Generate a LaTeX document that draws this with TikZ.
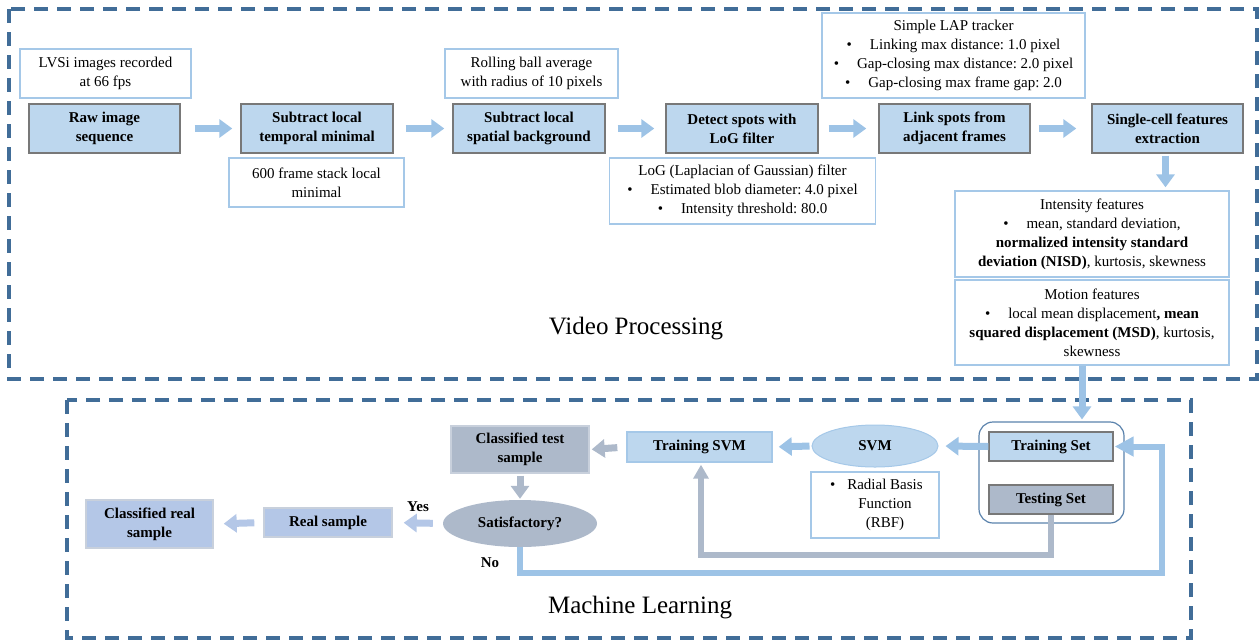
\documentclass[tikz,border=0pt]{standalone}
\usepackage{fontspec}
\setmainfont{Liberation Serif}
\usetikzlibrary{arrows.meta,shapes.geometric}
\definecolor{procfill}{RGB}{189,215,238}
\definecolor{procline}{RGB}{120,120,120}
\definecolor{notline}{RGB}{165,200,232}
\definecolor{arrblue}{RGB}{157,195,230}
\definecolor{arrpale}{RGB}{180,199,231}
\definecolor{grayfill}{RGB}{173,185,202}
\definecolor{grayline}{RGB}{200,208,220}
\definecolor{dashcol}{RGB}{65,109,152}
\definecolor{grpline}{RGB}{90,130,172}
\definecolor{realfill}{RGB}{180,199,231}
\frenchspacing
\begin{document}
\begin{tikzpicture}[x=1pt,y=-1pt,
  every node/.style={font=\fontsize{15}{19}\selectfont, inner sep=0pt, align=center},
  proc/.style={rectangle, fill=procfill, draw=procline, line width=1.4pt, font=\fontsize{15}{19}\selectfont\bfseries},
  note/.style={rectangle, fill=white, draw=notline, line width=1.3pt},
  dashbox/.style={draw=dashcol, line width=3.3pt, dash pattern=on 14pt off 9pt},
  barrow/.style={draw=arrblue, line width=7pt, -{Triangle[length=13pt,width=18pt]}},
  parrow/.style={draw=arrpale, line width=7pt, -{Triangle[length=13pt,width=18pt]}},
  garrow/.style={draw=grayfill, line width=7pt, -{Triangle[length=13pt,width=18pt]}},
  gloop/.style={draw=grayfill, line width=6pt, -{Triangle[length=14pt,width=15pt]}},
  bloop/.style={draw=arrblue, line width=6pt, -{Triangle[length=19pt,width=19pt]}},
  biglabel/.style={font=\fontsize{25}{29}\selectfont},
  lbl/.style={font=\fontsize{15}{19}\selectfont\bfseries}
]
\useasboundingbox (0,0) rectangle (1260,643);

% frames
\draw[dashbox] (9,9) rectangle (1257,379);
\draw[dashbox] (67,400) rectangle (1191,638);
\node[biglabel] (vp) at (636,329) {Video Processing};
\node[biglabel] (ml) at (640,608) {Machine Learning};

% top row
\node[proc, minimum width=151pt, minimum height=49pt] (raw) at (104.5,128.5) {Raw image\\sequence};
\node[proc, minimum width=152pt, minimum height=49pt] (temporal) at (317,128.5) {Subtract local\\temporal minimal};
\node[proc, minimum width=152pt, minimum height=49pt] (spatial) at (529,128.5) {Subtract local\\spatial background};
\node[proc, minimum width=152pt, minimum height=49pt] (detect) at (742,128.5) {Detect spots with\\LoG filter};
\node[proc, minimum width=151pt, minimum height=49pt] (link) at (954.5,128.5) {Link spots from\\adjacent frames};
\node[proc, minimum width=151pt, minimum height=49pt] (single) at (1167.5,128.5) {Single-cell features\\extraction};

\node[note, minimum width=171pt, minimum height=49pt] (nlvsi) at (105.5,73.5) {LVSi images recorded\\at 66 fps};
\node[note, minimum width=175pt, minimum height=49pt] (n600) at (316.5,182.5) {600 frame stack local\\minimal};
\node[note, minimum width=173pt, minimum height=49pt] (nroll) at (531.5,73.5) {Rolling ball average\\with radius of 10 pixels};
\node[note, minimum width=266pt, minimum height=66pt] (nlog) at (742.5,191) {LoG (Laplacian of Gaussian) filter\\ •\hspace{18pt}Estimated blob diameter: 4.0 pixel\\ •\hspace{18pt}Intensity threshold: 80.0};
\node[note, minimum width=263pt, minimum height=85pt] (nlap) at (953.5,55.5) {Simple LAP tracker\\ •\hspace{18pt}Linking max distance: 1.0 pixel\\ •\hspace{18pt}Gap-closing max distance: 2.0 pixel\\ •\hspace{18pt}Gap-closing max frame gap: 2.0};
\node[note, minimum width=274pt, minimum height=86pt] (nint) at (1092,234) {Intensity features\\ •\hspace{18pt}mean, standard deviation,\\ \textbf{normalized intensity standard}\\ \textbf{deviation (NISD)}, kurtosis, skewness};
\node[note, minimum width=274pt, minimum height=85pt] (nmot) at (1092,322.5) {Motion features\\ •\hspace{18pt}local mean displacement\textbf{, mean}\\ \textbf{squared displacement (MSD)}, kurtosis,\\ skewness};

\draw[barrow, shorten <=14pt, shorten >=8pt] (raw) -- (temporal);
\draw[barrow, shorten <=12pt, shorten >=8pt] (temporal) -- (spatial);
\draw[barrow, shorten <=12pt, shorten >=11pt] (spatial) -- (detect);
\draw[barrow, shorten <=10pt, shorten >=12pt] (detect) -- (link);
\draw[barrow, shorten <=8pt, shorten >=15pt] (link) -- (single);
\draw[barrow, shorten <=2pt, shorten >=3pt] ([xshift=-2pt]single.south) -- ([xshift=-2pt]single.south |- nint.north);

% lower part
\node[draw=grpline, line width=1.2pt, rounded corners=14pt, minimum width=145pt, minimum height=101pt] (grp) at (1051.5,472.5) {};
\node[proc, minimum width=124pt, minimum height=29pt] (trainset) at (1051,446.5) {Training Set};
\node[proc, fill=grayfill, minimum width=124pt, minimum height=29pt] (testset) at (1051,499.5) {Testing Set};
\node[ellipse, fill=procfill, draw=notline, line width=1pt, minimum width=126pt, minimum height=42pt, font=\fontsize{15}{19}\selectfont\bfseries] (svm) at (875,446) {SVM};
\node[note, minimum width=128pt, minimum height=66pt] (rbf) at (875,505) {\hspace*{20pt}\makebox[0pt][r]{•\hspace{12pt}}Radial Basis\\ \hspace*{20pt}Function\\ \hspace*{20pt}(RBF)};
\node[proc, draw=notline, minimum width=145pt, minimum height=30pt] (trainsvm) at (699.5,447) {Training SVM};
\node[proc, fill=grayfill, draw=grayline, minimum width=138pt, minimum height=47pt] (classtest) at (520,449.5) {Classified test\\sample};
\node[ellipse, fill=grayfill, minimum width=154pt, minimum height=47pt, font=\fontsize{15}{19}\selectfont\bfseries] (satis) at (520,523.5) {Satisfactory?};
\node[proc, fill=realfill, draw=grayline, minimum width=128pt, minimum height=29pt] (real) at (328,522.5) {Real sample};
\node[proc, fill=realfill, draw=grayline, minimum width=127pt, minimum height=48pt] (classreal) at (149.5,524) {Classified real\\sample};
\node[lbl] (yes) at (418,507) {Yes};
\node[lbl] (no) at (490,563) {No};

\draw[barrow, shorten >=2pt] ([xshift=-10pt]nmot.south) -- ([xshift=-10pt]nmot.south |- grp.north);
\draw[barrow, shorten >=7pt] (trainset.west) -- (svm.east);
\draw[barrow, shorten <=2pt, shorten >=6pt] (svm.west) -- (trainsvm.east);
\draw[garrow, shorten <=9pt, shorten >=2pt] (trainsvm.west) -- (classtest.east);
\draw[garrow, shorten <=2pt, shorten >=1pt] (classtest.south) -- (satis.north);
\draw[parrow, shorten <=10pt, shorten >=11pt] (satis.west) -- (real.east);
\draw[parrow, shorten <=9pt, shorten >=10pt] (real.west) -- (classreal.east);

\coordinate (gy) at (0,555);
\coordinate (bc) at (1162,573);
\draw[gloop, shorten >=2pt] (testset.south) -- (testset.south |- gy) -| ([xshift=1.5pt]trainsvm.south);
\draw[bloop, shorten >=1pt] (satis.south) |- (bc) |- (trainset.east);
\end{tikzpicture}
\end{document}
